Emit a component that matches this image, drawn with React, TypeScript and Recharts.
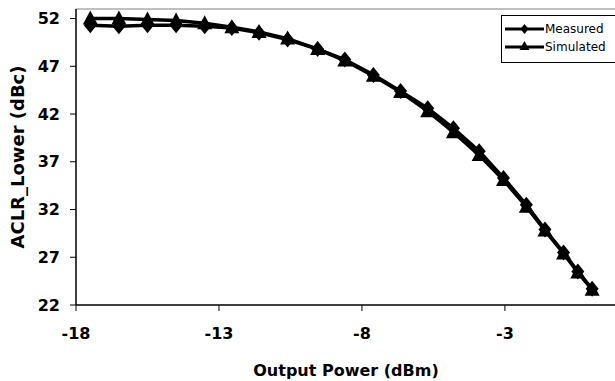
import React from 'react';
import { LineChart, Line, XAxis, YAxis, ReferenceLine } from 'recharts';

// output power (dBm) at each measured point
const powerOut = [-17.5, -16.5, -15.5, -14.5, -13.5, -12.55, -11.6, -10.6, -9.55, -8.6, -7.6, -6.65, -5.7, -4.8, -3.9, -3.05, -2.25, -1.6, -0.95, -0.45, 0.05];
const measured = [51.3, 51.2, 51.3, 51.3, 51.2, 51.0, 50.5, 49.8, 48.8, 47.7, 46.1, 44.4, 42.6, 40.5, 38.1, 35.3, 32.5, 29.9, 27.5, 25.5, 23.7];
const simulated = [52.0, 52.0, 51.9, 51.8, 51.5, 51.1, 50.6, 49.9, 48.8, 47.6, 46.0, 44.3, 42.3, 40.1, 37.7, 35.1, 32.3, 29.8, 27.4, 25.4, 23.6];
const xTicks = [-18, -13, -8, -3];
const yTicks = [22, 27, 32, 37, 42, 47, 52];
const seriesNames = ['Measured', 'Simulated'];

const data = powerOut.map((p, i) => ({ p, measured: measured[i], simulated: simulated[i] }));

const font = '"DejaVu Sans", Arial, sans-serif';

const Diamond = (props: any) => {
  const { cx, cy, index } = props;
  if (cx == null || cy == null) return null;
  return <path key={`dm-${index}`} d={`M${cx},${cy - 8} L${cx + 6.5},${cy} L${cx},${cy + 8} L${cx - 6.5},${cy} Z`} fill="#000" />;
};

const Triangle = (props: any) => {
  const { cx, cy, index } = props;
  if (cx == null || cy == null) return null;
  return <path key={`tr-${index}`} d={`M${cx},${cy - 8} L${cx + 7.5},${cy + 6} L${cx - 7.5},${cy + 6} Z`} fill="#000" />;
};

const LegendBox = () => (
  <div style={{ position: 'absolute', left: 501, top: 15, width: 125, height: 48, boxSizing: 'border-box', border: '1px solid #000', background: '#fff', fontFamily: font, fontSize: 12, color: '#000', paddingTop: 4, paddingLeft: 3 }}>
    {seriesNames.map((name, i) => (
      <div key={name} style={{ display: 'flex', alignItems: 'center', height: 18 }}>
        <svg width={39} height={14} style={{ marginRight: 1, flex: 'none' }}>
          <line x1={0} y1={7} x2={39} y2={7} stroke="#000" strokeWidth={3} />
          {i === 0
            ? <path d="M19.5,2 L23.5,7 L19.5,12 L15.5,7 Z" fill="#000" />
            : <path d="M19.5,1 L24.5,10 L14.5,10 Z" fill="#000" />}
        </svg>
        <span>{name}</span>
      </div>
    ))}
  </div>
);

export default function App() {
  return (
    <div style={{ position: 'absolute', left: 0, top: 0, width: 615, height: 381, background: '#fff', overflow: 'hidden' }}>
      <LineChart width={615} height={381} data={data} margin={{ top: 9, right: 0, bottom: 0, left: 0 }}>
        <XAxis
          type="number"
          dataKey="p"
          domain={[-18, 0.85]}
          ticks={xTicks}
          allowDataOverflow
          height={76}
          tickSize={6}
          tickMargin={17}
          axisLine={{ stroke: '#000', strokeWidth: 1.5 }}
          tickLine={{ stroke: '#000' }}
          tick={{ fill: '#000', fontSize: 16, fontWeight: 'bold', fontFamily: font }}
        />
        <YAxis
          type="number"
          domain={[22, 53]}
          ticks={yTicks}
          allowDataOverflow
          width={76}
          tickSize={6}
          tickMargin={10}
          axisLine={{ stroke: '#000', strokeWidth: 1.5 }}
          tickLine={{ stroke: '#000' }}
          tick={{ fill: '#000', fontSize: 16, fontWeight: 'bold', fontFamily: font }}
        />
        <ReferenceLine y={53} stroke="#808080" strokeWidth={1} />
        <Line
          name="Measured"
          dataKey="measured"
          stroke="#000"
          strokeWidth={3.5}
          dot={Diamond}
          isAnimationActive={false}
        />
        <Line
          name="Simulated"
          dataKey="simulated"
          stroke="#000"
          strokeWidth={3.5}
          dot={Triangle}
          isAnimationActive={false}
        />
      </LineChart>
      <LegendBox />
      <div style={{ position: 'absolute', left: 346, top: 370, transform: 'translate(-50%, -50%)', fontFamily: font, fontSize: 16, fontWeight: 'bold', whiteSpace: 'nowrap' }}>
        Output Power (dBm)
      </div>
      <div style={{ position: 'absolute', left: 17, top: 157, transform: 'translate(-50%, -50%) rotate(-90deg)', fontFamily: font, fontSize: 18, fontWeight: 'bold', whiteSpace: 'nowrap' }}>
        ACLR_Lower (dBc)
      </div>
    </div>
  );
}
